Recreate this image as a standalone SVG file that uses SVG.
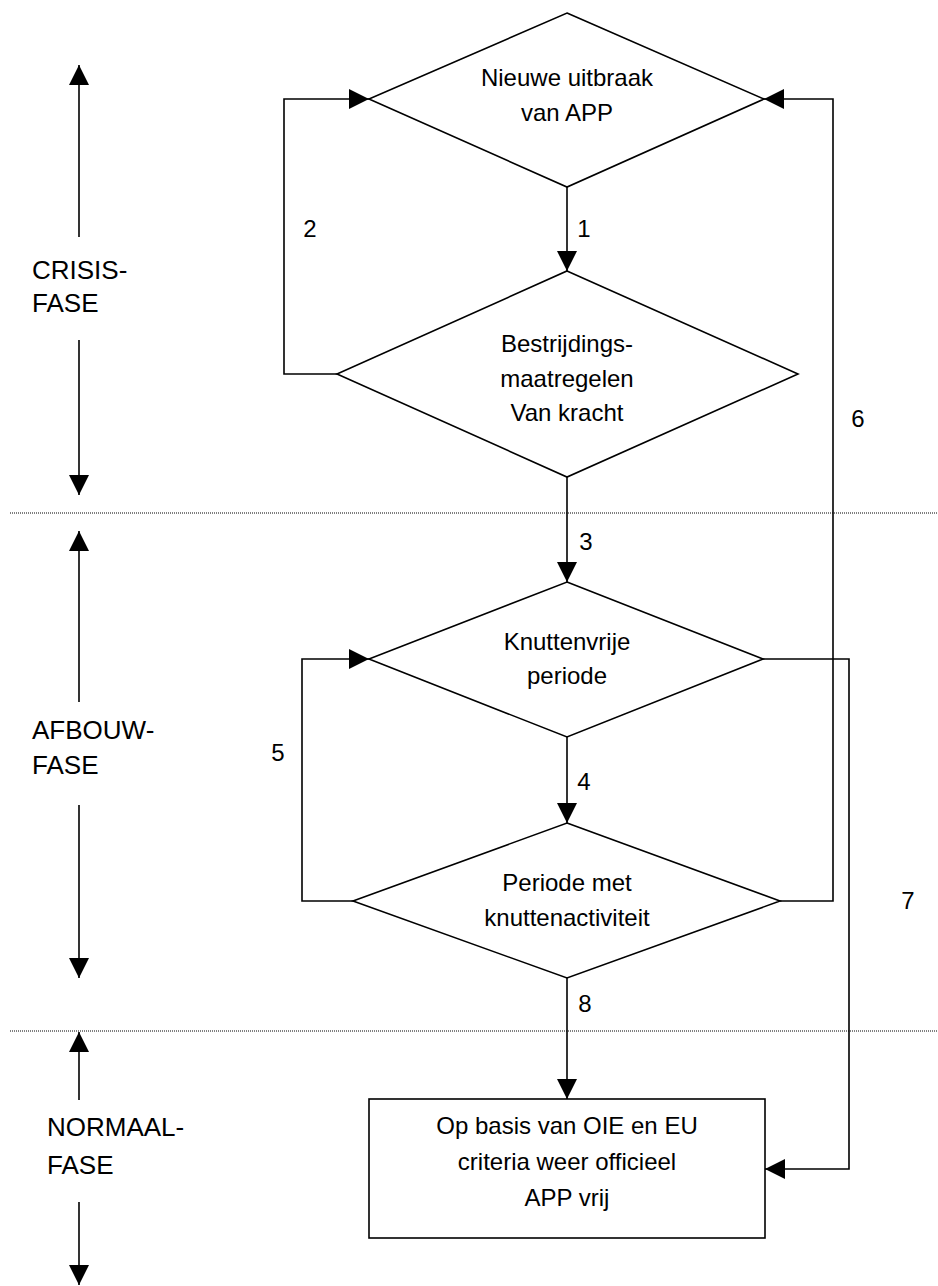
<svg xmlns="http://www.w3.org/2000/svg" width="938" height="1286" viewBox="0 0 938 1286">
<style>
.shape{fill:#fff;stroke:#000;stroke-width:1.6}
.ln{fill:none;stroke:#000;stroke-width:1.6}
.dot{stroke:#000;stroke-width:1;stroke-dasharray:1 1}
.t{font-family:"Liberation Sans",Arial,sans-serif;font-size:24px;fill:#000;text-anchor:middle}
.ph{font-family:"Liberation Sans",Arial,sans-serif;font-size:26px;fill:#000}
.num{font-family:"Liberation Sans",Arial,sans-serif;font-size:24px;fill:#000;text-anchor:middle}
</style>
<defs>
<marker id="ah" markerUnits="userSpaceOnUse" markerWidth="20" markerHeight="20" refX="20" refY="10" orient="auto">
<path d="M0,0 L20,10 L0,20 z" fill="#000"/>
</marker>
</defs>
<rect width="938" height="1286" fill="#fff"/>
<g id="dividers">
<line class="dot" x1="10" y1="513" x2="938" y2="513"/>
<line class="dot" x1="10" y1="1031" x2="938" y2="1031"/>
</g>
<g id="phase-crisis">
<line class="ln" x1="79" y1="237" x2="79" y2="65" marker-end="url(#ah)"/>
<line class="ln" x1="79" y1="340" x2="79" y2="495" marker-end="url(#ah)"/>
<text class="ph" x="32" y="279">CRISIS-</text>
<text class="ph" x="32" y="312">FASE</text>
</g>
<g id="phase-afbouw">
<line class="ln" x1="79" y1="702" x2="79" y2="531" marker-end="url(#ah)"/>
<line class="ln" x1="79" y1="805" x2="79" y2="978" marker-end="url(#ah)"/>
<text class="ph" x="32" y="739">AFBOUW-</text>
<text class="ph" x="32" y="774">FASE</text>
</g>
<g id="phase-normaal">
<line class="ln" x1="79" y1="1100" x2="79" y2="1032" marker-end="url(#ah)"/>
<line class="ln" x1="79" y1="1202" x2="79" y2="1285" marker-end="url(#ah)"/>
<text class="ph" x="47" y="1136">NORMAAL-</text>
<text class="ph" x="47" y="1174">FASE</text>
</g>
<g id="connectors">
<line class="ln" x1="567" y1="187" x2="567" y2="271" marker-end="url(#ah)"/>
<polyline class="ln" points="337,374 284,374 284,99 369,99" marker-end="url(#ah)"/>
<line class="ln" x1="567" y1="477" x2="567" y2="582" marker-end="url(#ah)"/>
<line class="ln" x1="567" y1="737" x2="567" y2="823" marker-end="url(#ah)"/>
<polyline class="ln" points="353,901 302,901 302,659 369,659" marker-end="url(#ah)"/>
<polyline class="ln" points="780,901 833,901 833,99 764,99" marker-end="url(#ah)"/>
<polyline class="ln" points="763,659 849,659 849,1169 765,1169" marker-end="url(#ah)"/>
<line class="ln" x1="567" y1="978" x2="567" y2="1099" marker-end="url(#ah)"/>
<text class="num" x="584" y="237">1</text>
<text class="num" x="310" y="237">2</text>
<text class="num" x="586" y="550">3</text>
<text class="num" x="584" y="790">4</text>
<text class="num" x="278" y="761">5</text>
<text class="num" x="858" y="427">6</text>
<text class="num" x="908" y="909">7</text>
<text class="num" x="585" y="1012">8</text>
</g>
<g id="node-uitbraak">
<polygon class="shape" points="567,13 764,99 567,187 369,99"/>
<text class="t" x="567" y="86">Nieuwe uitbraak</text>
<text class="t" x="567" y="121">van APP</text>
</g>
<g id="node-bestrijding">
<polygon class="shape" points="567,271 798,374 567,477 337,374"/>
<text class="t" x="567" y="352">Bestrijdings-</text>
<text class="t" x="567" y="387">maatregelen</text>
<text class="t" x="567" y="421">Van kracht</text>
</g>
<g id="node-knuttenvrij">
<polygon class="shape" points="567,582 763,659 567,737 369,659"/>
<text class="t" x="567" y="650">Knuttenvrije</text>
<text class="t" x="567" y="684">periode</text>
</g>
<g id="node-knuttenactief">
<polygon class="shape" points="567,823 780,901 567,978 353,901"/>
<text class="t" x="567" y="891">Periode met</text>
<text class="t" x="567" y="926">knuttenactiviteit</text>
</g>
<g id="node-vrij">
<rect class="shape" x="369" y="1099" width="396" height="139"/>
<text class="t" x="567" y="1134">Op basis van OIE en EU</text>
<text class="t" x="567" y="1170">criteria weer officieel</text>
<text class="t" x="567" y="1206">APP vrij</text>
</g>
</svg>
